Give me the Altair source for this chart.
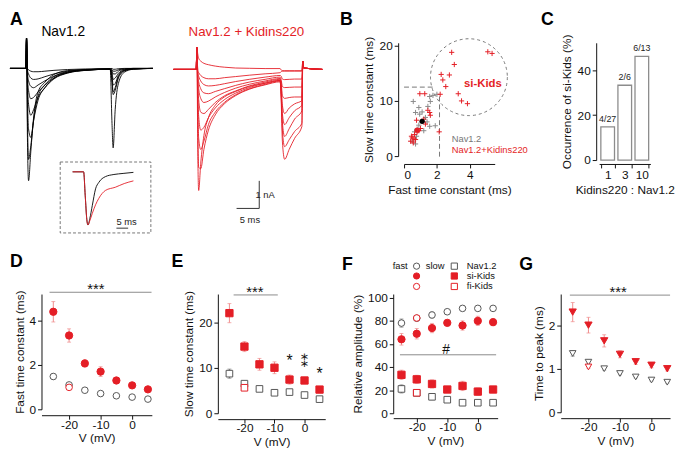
import altair as alt
import pandas as pd

FONT = "Liberation Sans"
RED = "#e41e26"
RED_ERR = "#f08c8c"
DARK = "#555555"
GREY = "#8a8a8a"

# ---------------- Panel A: current traces ----------------
T_BLACK = [-3.7, -0.2, -0.05, 0.15, 0.4, 0.9, 1.5, 2.5, 4.0, 6.0, 9.0, 13.0,
           18.4, 18.8, 19.05, 19.5, 20.2, 21.5, 23.5, 27.8]
BLACK_TRACES = [
    [0, 0, 1.10, -2.50, -4.07, -3.00, -1.80, -0.85, -0.50, -0.22, -0.08, -0.04, -0.02, -2.00, -2.88, -1.50, -0.55, -0.14, -0.03, 0],
    [0, 0, 1.10, -1.80, -3.30, -2.80, -1.90, -1.00, -0.60, -0.30, -0.12, -0.05, -0.02, -0.50, -0.95, -0.80, -0.35, -0.10, -0.02, 0],
    [0, 0, 1.10, -1.00, -2.20, -2.50, -1.90, -1.15, -0.70, -0.35, -0.15, -0.06, -0.03, -0.40, -0.85, -0.70, -0.30, -0.08, -0.02, 0],
    [0, 0, 1.10, -0.50, -1.30, -1.70, -1.50, -1.05, -0.70, -0.38, -0.17, -0.07, -0.03, -0.25, -0.60, -0.55, -0.25, -0.07, -0.02, 0],
    [0, 0, 1.10, -0.30, -0.80, -1.10, -1.05, -0.85, -0.60, -0.35, -0.16, -0.07, -0.03, -0.15, -0.40, -0.35, -0.18, -0.05, -0.01, 0],
    [0, 0, 1.10, -0.15, -0.45, -0.65, -0.70, -0.60, -0.45, -0.28, -0.14, -0.06, -0.02, -0.08, -0.20, -0.20, -0.10, -0.03, 0, 0],
    [0, 0, 1.10, -0.05, -0.20, -0.35, -0.40, -0.38, -0.30, -0.20, -0.10, -0.05, -0.02, -0.04, -0.10, -0.10, -0.05, -0.02, 0, 0],
    [0, 0, 1.10, 0.00, -0.05, -0.10, -0.12, -0.12, -0.10, -0.07, -0.04, -0.02, -0.01, 0, -0.03, -0.03, -0.01, 0, 0, 0],
]
T_RED = [-5.2, -0.2, -0.05, 0.15, 0.35, 0.8, 1.5, 2.5, 4.0, 6.0, 8.5, 11.5, 15.0,
         18.3, 18.55, 18.8, 19.3, 20.3, 21.5, 23.1, 23.3, 23.5, 27.6]
RED_TRACES = [
    [0, 0, 0.79, -3.00, -4.39, -3.40, -2.40, -1.75, -1.30, -1.00, -0.80, -0.62, -0.50, -0.40, -1.20, -2.60, -3.26, -2.90, -2.50, -2.07, 0.30, 0.05, 0],
    [0, 0, 0.79, -2.00, -3.55, -3.60, -2.90, -2.20, -1.65, -1.25, -0.95, -0.72, -0.56, -0.45, -1.00, -2.20, -2.80, -2.55, -2.25, -1.95, 0.30, 0.05, 0],
    [0, 0, 0.79, -1.20, -2.50, -2.90, -2.60, -2.00, -1.55, -1.20, -0.92, -0.70, -0.54, -0.42, -0.90, -1.90, -2.43, -2.15, -1.80, -1.50, 0.30, 0.05, 0],
    [0, 0, 0.79, -0.80, -1.70, -2.20, -2.10, -1.75, -1.40, -1.10, -0.86, -0.66, -0.50, -0.40, -0.80, -1.60, -2.00, -1.75, -1.50, -1.30, 0.30, 0.05, 0],
    [0, 0, 0.79, -0.50, -1.10, -1.55, -1.60, -1.45, -1.20, -0.96, -0.78, -0.60, -0.46, -0.36, -0.60, -1.30, -1.60, -1.40, -1.25, -1.13, 0.30, 0.05, 0],
    [0, 0, 0.79, -0.30, -0.70, -1.05, -1.20, -1.15, -1.00, -0.84, -0.68, -0.54, -0.42, -0.33, -0.50, -0.95, -1.05, -1.02, -1.00, -1.00, 0.30, 0.05, 0],
    [0, 0, 0.79, -0.20, -0.45, -0.70, -0.85, -0.88, -0.80, -0.70, -0.58, -0.46, -0.36, -0.28, -0.40, -0.62, -0.66, -0.65, -0.64, -0.64, 0.30, 0.05, 0],
    [0, 0, 0.79, -0.10, -0.25, -0.42, -0.55, -0.60, -0.58, -0.52, -0.44, -0.36, -0.28, -0.22, -0.25, -0.35, -0.37, -0.36, -0.35, -0.35, 0.30, 0.05, 0],
    [0, 0, 0.79, -0.05, -0.12, -0.22, -0.30, -0.34, -0.34, -0.30, -0.26, -0.21, -0.16, -0.12, -0.08, -0.06, -0.06, -0.06, -0.06, -0.06, 0.30, 0.05, 0],
    [0, 0, 0.79, 0.55, 0.40, 0.30, 0.22, 0.17, 0.12, 0.08, 0.05, 0.04, 0.03, 0.03, -0.02, -0.05, -0.05, -0.05, -0.05, -0.05, 0.30, 0.05, 0],
]
INSET_T_BLACK = [-5, -0.2, 0.5, 1.2, 1.7, 2.5, 3.6, 5.0, 6.4, 9.3, 13.0, 17.0, 21.5]
INSET_I_BLACK = [0, 0, -0.45, -0.9, -1.0, -0.88, -0.63, -0.32, -0.20, -0.09, -0.05, -0.03, -0.01]
INSET_T_RED = [-5, -0.2, 0.5, 1.2, 1.7, 2.5, 3.6, 5.0, 6.4, 9.3, 13.6, 17.5, 21.5]
INSET_I_RED = [0, 0, -0.45, -0.9, -1.0, -0.92, -0.78, -0.62, -0.50, -0.35, -0.29, -0.22, -0.17]

# ---------------- Panel B: scatter ----------------
B_RED_X = [2.9, 5.1, 5.36, 3.06, 2.26, 2.76, 2.36, 2.54, 2.2, 3.3, 3.5, 3.86, 0.96, 1.26, 2.14, 1.56, 1.6, 1.2,
           0.76, 0.8, 0.64, 0.5, 0.4, 0.7, 0.56, 1.45, 1.0, 0.9, 0.45, 0.6, 1.3]
B_RED_Y = [18.8, 18.9, 18.6, 16.6, 14.8, 14.7, 13.8, 12.6, 11.2, 11.3, 10.0, 9.5, 11.3, 11.3, 4.4, 7.9, 7.4, 6.7,
           6.5, 4.4, 3.9, 3.3, 2.7, 3.0, 2.4, 8.3, 5.0, 4.6, 3.6, 3.1, 5.8]
B_GRAY_X = [0.56, 0.9, 1.56, 1.76, 2.0, 1.6, 0.7, 0.95, 1.4, 1.56, 0.9, 1.2, 0.64, 0.76, 0.5, 0.7, 1.1, 1.3, 0.8, 1.9, 1.45]
B_GRAY_Y = [9.9, 8.8, 10.8, 11.0, 11.2, 9.9, 7.9, 7.6, 6.2, 5.4, 5.6, 4.6, 4.4, 3.6, 2.7, 2.2, 8.0, 7.0, 4.9, 5.5, 9.0]
B_MEAN_X = [1.1, 0.8]
B_MEAN_Y = [6.3, 4.7]
B_CIRCLE = (3.95, 14.3)
B_HDASH = (0.0, 1.85, 12.5)
B_VDASH = (2.16, -0.1, 11.0)

# ---------------- Panel C: bars ----------------
C_RATIO = ["1", "3", "10"]
C_PCT = [14.8, 33.3, 46.2]
C_LABEL = ["4/27", "2/6", "6/13"]

# ---------------- Panels D-G ----------------
V = [-25, -20, -15, -10, -5, 0, 5]
V_FI = [-20]
D_SI = [4.40, 3.33, 2.07, 1.70, 1.30, 1.08, 0.90]
D_SI_ERR = [0.46, 0.30, 0.16, 0.22, 0.10, 0.07, 0.06]
D_NAV = [1.48, 1.10, 0.86, 0.71, 0.61, 0.55, 0.46]
D_NAV_ERR = [0.12, 0.05, 0.03, 0.03, 0.03, 0.02, 0.02]
D_FI = [0.99]
D_FI_ERR = [0.06]

E_SI = [22.0, 14.65, 10.75, 10.0, 7.4, 7.2, 5.2]
E_SI_ERR = [2.1, 1.1, 1.3, 1.3, 1.0, 0.7, 0.6]
E_NAV = [8.7, 6.5, 5.35, 4.5, 4.65, 4.0, 3.1]
E_NAV_ERR = [1.0, 0.5, 0.4, 0.6, 0.3, 0.3, 0.2]
E_FI = [5.6]
E_FI_ERR = [0.4]
E_STAR_V = [-5, 5]
E_STAR_Y = [12.3, 9.5]
E_DSTAR_V = [0]
E_DSTAR_Y = [11.5]

F_FAST_NAV = [77.9, 82.1, 84.9, 87.7, 90.6, 90.6, 90.6]
F_FAST_NAV_ERR = [3.5, 2.0, 2.5, 1.5, 1.0, 1.0, 1.0]
F_FAST_SI = [63.9, 68.7, 73.6, 78.1, 75.8, 79.8, 78.7]
F_FAST_SI_ERR = [5.0, 4.5, 4.0, 2.5, 4.0, 4.0, 3.0]
F_FAST_FI = [82.3]
F_SLOW_NAV = [21.0, 17.6, 14.2, 11.7, 9.1, 9.1, 9.1]
F_SLOW_NAV_ERR = [3.5, 2.0, 2.5, 1.5, 1.0, 1.0, 1.0]
F_SLOW_SI = [33.2, 29.3, 25.3, 20.5, 23.6, 18.7, 20.5]
F_SLOW_SI_ERR = [4.0, 3.5, 3.5, 2.0, 4.0, 3.0, 2.5]
F_SLOW_FI = [17.7]
F_FI_ERR = [1.5]

G_SI = [2.30, 2.00, 1.64, 1.33, 1.16, 1.08, 1.00]
G_SI_ERR = [0.22, 0.18, 0.14, 0.08, 0.06, 0.06, 0.05]
G_NAV = [1.35, 1.15, 1.00, 0.89, 0.81, 0.74, 0.69]
G_NAV_ERR = [0.06, 0.04, 0.03, 0.03, 0.02, 0.02, 0.02]
G_FI = [1.04]
G_FI_ERR = [0.03]

LBL = "'' + datum.value"


def sc(domain, rng=None):
    if rng is None:
        return alt.Scale(domain=domain, nice=False, zero=False)
    return alt.Scale(domain=domain, range=rng, nice=False, zero=False)


def trace_df(times, traces):
    rows = []
    for k, tr in enumerate(traces):
        for j, (t, i) in enumerate(zip(times, tr)):
            rows.append({"trace": k, "j": j, "t": t, "i": i})
    return pd.DataFrame(rows)


def letter(ch, x, y):
    return alt.Chart(pd.DataFrame({"a": [0]})).mark_text(
        text=ch, font=FONT, fontSize=18, fontWeight="bold", align="left", baseline="top", color="black"
    ).encode(x=alt.value(x), y=alt.value(y))


def spacer(w, h=1):
    return alt.Chart(pd.DataFrame({"a": [0]})).mark_point(opacity=0, size=1).encode(
        x=alt.X("a:Q", axis=None), y=alt.Y("a:Q", axis=None)
    ).properties(width=w, height=h)


# ---------- Panel A ----------
BX, BY = sc([-3.7, 27.8], [-32, 113]), sc([-4.5, 1.5], [152, -16])
RX, RY = sc([-5.2, 27.6], [134, 285]), sc([-4.5, 1.5], [153, -15])
IX, IY = sc([-10.4, 29.1], [19, 111]), sc([-1.15, 0.185], [193, 121])

black_lines = alt.Chart(trace_df(T_BLACK, BLACK_TRACES)).mark_line(
    color="black", strokeWidth=0.9, interpolate="monotone"
).encode(x=alt.X("t:Q", scale=BX, axis=None), y=alt.Y("i:Q", scale=BY, axis=None), detail="trace:N", order="j:Q")
black_title = alt.Chart(pd.DataFrame({"t": [8.04], "i": [1.30], "s": ["Nav1.2"]})).mark_text(
    font=FONT, fontSize=14, color="black", baseline="middle"
).encode(x=alt.X("t:Q", scale=BX, axis=None), y=alt.Y("i:Q", scale=BY, axis=None), text="s:N")
black_layer = alt.layer(black_lines, black_title)

red_lines = alt.Chart(trace_df(T_RED, RED_TRACES)).mark_line(
    color=RED, strokeWidth=0.9, interpolate="monotone"
).encode(x=alt.X("t:Q", scale=RX, axis=None), y=alt.Y("i:Q", scale=RY, axis=None), detail="trace:N", order="j:Q")
red_title = alt.Chart(pd.DataFrame({"t": [10.87], "i": [1.34], "s": ["Nav1.2 + Kidins220"]})).mark_text(
    font=FONT, fontSize=13.5, color=RED, baseline="middle"
).encode(x=alt.X("t:Q", scale=RX, axis=None), y=alt.Y("i:Q", scale=RY, axis=None), text="s:N")
bar_df = pd.DataFrame({"t": [8.7, 13.7, 13.7], "i": [-5.04, -5.04, -4.04], "j": [0, 1, 2]})
scalebar = alt.Chart(bar_df).mark_line(color="#333", strokeWidth=1).encode(
    x=alt.X("t:Q", scale=RX, axis=None), y=alt.Y("i:Q", scale=RY, axis=None), order="j:Q")
bar_txt = alt.Chart(pd.DataFrame({"t": [15.0, 11.65], "i": [-4.57, -5.46], "s": ["1 nA", "5 ms"]})).mark_text(
    font=FONT, fontSize=9.5, color="#222", baseline="middle"
).encode(x=alt.X("t:Q", scale=RX, axis=None), y=alt.Y("i:Q", scale=RY, axis=None), text="s:N")
red_layer = alt.layer(red_lines, red_title, scalebar, bar_txt)

inset_box = alt.Chart(pd.DataFrame({"x0": [-10.4], "x1": [29.1], "y0": [-1.15], "y1": [0.185]})).mark_rect(
    fillOpacity=0, stroke="#777", strokeDash=[3, 2], strokeWidth=1
).encode(x=alt.X("x0:Q", scale=IX, axis=None), x2="x1:Q", y=alt.Y("y0:Q", scale=IY, axis=None), y2="y1:Q")
inset_df = pd.concat([
    pd.DataFrame({"t": INSET_T_BLACK, "i": INSET_I_BLACK, "g": "Nav1.2", "j": range(len(INSET_T_BLACK))}),
    pd.DataFrame({"t": INSET_T_RED, "i": INSET_I_RED, "g": "Kidins", "j": range(len(INSET_T_RED))}),
])
inset_lines = alt.Chart(inset_df).mark_line(strokeWidth=0.9, interpolate="monotone").encode(
    x=alt.X("t:Q", scale=IX, axis=None), y=alt.Y("i:Q", scale=IY, axis=None),
    color=alt.Color("g:N", scale=alt.Scale(domain=["Nav1.2", "Kidins"], range=["black", RED]), legend=None),
    order="j:Q")
inset_bar = alt.Chart(pd.DataFrame({"t": [14.1, 19.2], "i": [-1.06, -1.06], "j": [0, 1]})).mark_line(
    color="#333", strokeWidth=1).encode(x=alt.X("t:Q", scale=IX, axis=None), y=alt.Y("i:Q", scale=IY, axis=None), order="j:Q")
inset_txt = alt.Chart(pd.DataFrame({"t": [14.1], "i": [-0.95], "s": ["5 ms"]})).mark_text(
    font=FONT, fontSize=9.5, color="#222", align="left", baseline="middle"
).encode(x=alt.X("t:Q", scale=IX, axis=None), y=alt.Y("i:Q", scale=IY, axis=None), text="s:N")
inset_layer = alt.layer(inset_box, inset_lines, inset_bar, inset_txt)

panelA = alt.layer(black_layer, red_layer, inset_layer, letter("A", -32, -32)).resolve_scale(
    x="independent", y="independent", color="independent").properties(width=368, height=214)

# ---------- Panel B ----------
bxs, bys = sc([0, 5.52]), sc([0, 20.53])
bxa = alt.Axis(values=[0, 2, 4], title="Fast time constant (ms)", offset=8, labelExpr=LBL, titlePadding=4)
bya = alt.Axis(values=[0, 10, 20], title="Slow time constant (ms)", offset=6, labelExpr=LBL, titlePadding=4)
BXe = lambda f: alt.X(f, type="quantitative", scale=bxs, axis=bxa)
BYe = lambda f: alt.Y(f, type="quantitative", scale=bys, axis=bya)
PLUS = "M-1,0L1,0M0,-1L0,1"
b_circle = alt.Chart(pd.DataFrame({"x": [B_CIRCLE[0]], "y": [B_CIRCLE[1]]})).mark_point(
    shape="circle", size=6084, filled=False, stroke="#777", strokeDash=[3, 3], strokeWidth=1, opacity=1
).encode(x=BXe("x"), y=BYe("y"))
b_dash = alt.Chart(pd.DataFrame({"x": [B_HDASH[0], B_VDASH[0]], "x2": [B_HDASH[1], B_VDASH[0]],
                                 "y": [B_HDASH[2], B_VDASH[1]], "y2": [B_HDASH[2], B_VDASH[2]]})).mark_rule(
    color="#777", strokeDash=[5, 3], strokeWidth=1).encode(x=BXe("x"), x2="x2:Q", y=BYe("y"), y2="y2:Q")
b_gray = alt.Chart(pd.DataFrame({"x": B_GRAY_X, "y": B_GRAY_Y})).mark_point(
    shape=PLUS, size=28, filled=False, color="#8a8a8a", strokeWidth=1, opacity=1).encode(x=BXe("x"), y=BYe("y"))
b_red = alt.Chart(pd.DataFrame({"x": B_RED_X, "y": B_RED_Y})).mark_point(
    shape=PLUS, size=28, filled=False, color=RED, strokeWidth=1, opacity=1).encode(x=BXe("x"), y=BYe("y"))
b_mean = alt.Chart(pd.DataFrame({"x": B_MEAN_X, "y": B_MEAN_Y, "g": ["Nav1.2", "Kidins"]})).mark_point(
    shape="circle", size=30, filled=True, opacity=1).encode(
    x=BXe("x"), y=BYe("y"),
    color=alt.Color("g:N", scale=alt.Scale(domain=["Nav1.2", "Kidins"], range=["black", RED]), legend=None))
b_sik = alt.Chart(pd.DataFrame({"x": [4.8], "y": [13.1], "s": ["si-Kids"]})).mark_text(
    font=FONT, fontSize=11.5, fontWeight="bold", color=RED, baseline="middle").encode(x=BXe("x"), y=BYe("y"), text="s:N")
b_leg = alt.Chart(pd.DataFrame({"x": [2.9, 2.9], "y": [3.0, 1.05], "s": ["Nav1.2", "Nav1.2+Kidins220"],
                                "g": ["Nav1.2", "Kidins"]})).mark_text(
    font=FONT, fontSize=9.5, align="left", baseline="middle").encode(
    x=BXe("x"), y=BYe("y"), text="s:N",
    color=alt.Color("g:N", scale=alt.Scale(domain=["Nav1.2", "Kidins"], range=["#777", RED]), legend=None))
panelB = alt.layer(b_circle, b_dash, b_gray, b_red, b_mean, b_sik, b_leg, letter("B", -65, -32)).resolve_scale(
    color="independent").properties(width=92, height=115)

# ---------- Panel C ----------
c_df = pd.DataFrame({"r": C_RATIO, "p": C_PCT, "lab": C_LABEL})
cx = alt.X("r:N", sort=None, scale=alt.Scale(paddingInner=0.2, paddingOuter=0.1),
           axis=alt.Axis(title="Kidins220 : Nav1.2", labelAngle=0, offset=4, tickBand="extent", titlePadding=4))
cya = alt.Axis(values=[0, 20, 40], title="Occurrence of si-Kids (%)", offset=3, labelExpr=LBL, titlePadding=4)
cy = lambda f: alt.Y(f, type="quantitative", scale=sc([0, 52.2]), axis=cya)
c_bars = alt.Chart(c_df).mark_bar(fill="white", stroke="#8c8c8c", strokeWidth=1.3).encode(x=cx, y=cy("p"))
c_txt = alt.Chart(c_df).mark_text(font=FONT, fontSize=9, dy=-8, color="#222").encode(x=cx, y=cy("p"), text="lab:N")
panelC = alt.layer(c_bars, c_txt, letter("C", -59, -32)).properties(width=52, height=119)


# ---------- Panels D-G ----------
def series(v, y, e, shape, filled, col, ecol, size):
    return dict(v=v, y=y, e=e, shape=shape, filled=filled, col=col, ecol=ecol, size=size)


def vpanel(ser, xdom, ydom, yvals, ytitle, w, h, xoff, ytp, extras_fn, let):
    xsc, ysc = sc(xdom), sc(ydom)
    xax = alt.Axis(values=[-20, -10, 0], title="V (mV)", offset=xoff, labelExpr=LBL, labelPadding=0, titlePadding=3)
    yax = alt.Axis(values=yvals, title=ytitle, offset=0, labelExpr=LBL, titlePadding=ytp)
    X = lambda f: alt.X(f, type="quantitative", scale=xsc, axis=xax)
    Y = lambda f: alt.Y(f, type="quantitative", scale=ysc, axis=yax)
    layers = []
    for s in ser:
        df = pd.DataFrame({"v": s["v"], "y": s["y"],
                           "lo": [a - b for a, b in zip(s["y"], s["e"])],
                           "hi": [a + b for a, b in zip(s["y"], s["e"])]})
        base = alt.Chart(df)
        layers.append(base.mark_rule(color=s["ecol"], strokeWidth=1).encode(x=X("v"), y=Y("lo"), y2="hi:Q"))
        layers.append(base.mark_tick(orient="horizontal", size=4, thickness=1, color=s["ecol"]).encode(x=X("v"), y=Y("lo")))
        layers.append(base.mark_tick(orient="horizontal", size=4, thickness=1, color=s["ecol"]).encode(x=X("v"), y=Y("hi")))
        fill = s["col"] if s["filled"] else "white"
        mk = base.mark_point(shape=s["shape"], size=s["size"], filled=True, fill=fill, stroke=s["col"],
                             strokeWidth=1, opacity=1)
        layers.append(mk.encode(x=X("v"), y=Y("y")))
    layers += extras_fn(X, Y)
    layers.append(let)
    return alt.layer(*layers).properties(width=w, height=h)


def sig(x0, x1, y, txt, tx, dy, fs=15):
    def fn(X, Y):
        rule = alt.Chart(pd.DataFrame({"x": [x0], "x2": [x1], "y": [y]})).mark_rule(
            color=GREY, strokeWidth=1).encode(x=X("x"), x2="x2:Q", y=Y("y"))
        t = alt.Chart(pd.DataFrame({"x": [tx], "y": [y], "s": [txt]})).mark_text(
            font=FONT, fontSize=fs, baseline="alphabetic", dy=dy, color="#111").encode(x=X("x"), y=Y("y"), text="s:N")
        return [rule, t]
    return fn


panelD = vpanel(
    [series(V, D_NAV, D_NAV_ERR, "circle", False, DARK, "#777", 45),
     series(V_FI, D_FI, D_FI_ERR, "circle", False, RED, RED_ERR, 45),
     series(V, D_SI, D_SI_ERR, "circle", True, RED, RED_ERR, 55)],
    [-28.75, 6.25], [0, 5.2], [0, 2, 4], "Fast time constant (ms)", 112, 117, 6, 3,
    sig(-26.2, 6.15, 5.28, "***", -11.5, 2), letter("D", -32, -41))


def e_extras(X, Y):
    out = sig(-23.6, -8.9, 26.0, "***", -16.5, 2)(X, Y)
    out.append(alt.Chart(pd.DataFrame({"x": E_STAR_V, "y": E_STAR_Y, "s": ["*"] * len(E_STAR_V)})).mark_text(
        font=FONT, fontSize=16, baseline="alphabetic", dy=9.2, color="#111").encode(
        x=X("x"), y=Y("y"), text="s:N"))
    out.append(alt.Chart(pd.DataFrame({"x": E_DSTAR_V, "y": E_DSTAR_Y, "s": ["\u2051"]})).mark_text(
        font="DejaVu Sans", fontSize=15, baseline="alphabetic", dy=6.2, color="#111").encode(
        x=X("x"), y=Y("y"), text="s:N"))
    return out


panelE = vpanel(
    [series(V, E_NAV, E_NAV_ERR, "square", False, DARK, "#777", 45),
     series(V_FI, E_FI, E_FI_ERR, "square", False, RED, RED_ERR, 45),
     series(V, E_SI, E_SI_ERR, "square", True, RED, RED_ERR, 55)],
    [-28.85, 6.9], [0, 26.2], [0, 10, 20], "Slow time constant (ms)", 109, 121, 6, 3,
    e_extras, letter("E", -47, -41))


def legend_mark(shape, fill, stroke, x, y):
    return alt.Chart(pd.DataFrame({"a": [0]})).mark_point(
        shape=shape, size=40, filled=True, fill=fill, stroke=stroke, strokeWidth=1, opacity=1
    ).encode(x=alt.value(x), y=alt.value(y))


def legend_text(s, x, y, align):
    return alt.Chart(pd.DataFrame({"a": [0]})).mark_text(
        text=s, font=FONT, fontSize=9.5, align=align, baseline="middle", color="#111"
    ).encode(x=alt.value(x), y=alt.value(y))


def f_extras(X, Y):
    out = sig(-25.5, 6.0, 50.5, "#", -10.4, -1, 14)(X, Y)
    rows = [-28.3, -18.3, -7.7]
    styles = [("white", DARK), (RED, RED), ("white", RED)]
    labels = ["Nav1.2", "si-Kids", "fi-Kids"]
    out.append(legend_text("fast", 14.7, rows[0], "right"))
    out.append(legend_text("slow", 33, rows[0], "left"))
    for ry, (fl, st), lab in zip(rows, styles, labels):
        out.append(legend_mark("circle", fl, st, 23.7, ry))
        out.append(legend_mark("square", fl, st, 62, ry))
        out.append(legend_text(lab, 74.7, ry, "left"))
    return out


panelF = vpanel(
    [series(V, F_FAST_NAV, F_FAST_NAV_ERR, "circle", False, DARK, "#777", 45),
     series(V_FI, F_FAST_FI, F_FI_ERR, "circle", False, RED, RED_ERR, 45),
     series(V, F_FAST_SI, F_FAST_SI_ERR, "circle", True, RED, RED_ERR, 55),
     series(V, F_SLOW_NAV, F_SLOW_NAV_ERR, "square", False, DARK, "#777", 45),
     series(V_FI, F_SLOW_FI, F_FI_ERR, "square", False, RED, RED_ERR, 45),
     series(V, F_SLOW_SI, F_SLOW_SI_ERR, "square", True, RED, RED_ERR, 55)],
    [-27.7, 6.5], [0, 103], [0, 20, 40, 60, 80, 100], "Relative amplitude (%)", 106, 121, 5, 3,
    f_extras, letter("F", -52, -38))

panelG = vpanel(
    [series(V, G_NAV, G_NAV_ERR, "triangle-down", False, DARK, "#777", 45),
     series(V_FI, G_FI, G_FI_ERR, "triangle-down", False, RED, RED_ERR, 45),
     series(V, G_SI, G_SI_ERR, "triangle-down", True, RED, RED_ERR, 55)],
    [-28.8, 5.9], [0, 2.715], [0, 1, 2], "Time to peak (ms)", 111, 120, 6, 3,
    sig(-25.9, 5.9, 2.69, "***", -10.6, 2), letter("G", -42, -38))

row1 = alt.hconcat(panelA, panelB, spacer(106), panelC, spacing=0, bounds="flush")
row2 = alt.hconcat(panelD, spacer(67), panelE, spacer(69), panelF, spacer(64), panelG, spacing=0, bounds="flush")

chart = alt.vconcat(row1, row2, spacing=0).properties(padding=0).configure(font=FONT).configure_view(
    stroke=None).configure_axis(
    labelFont=FONT, titleFont=FONT, labelFontSize=12, titleFontSize=12, titleFontWeight="normal",
    domainColor="#111", tickColor="#111", labelColor="#111", titleColor="#111", grid=False,
    tickSize=4, labelPadding=2, domainWidth=1, tickWidth=1)

chart.save("out.html", embed_options={"renderer": "svg", "actions": False})
